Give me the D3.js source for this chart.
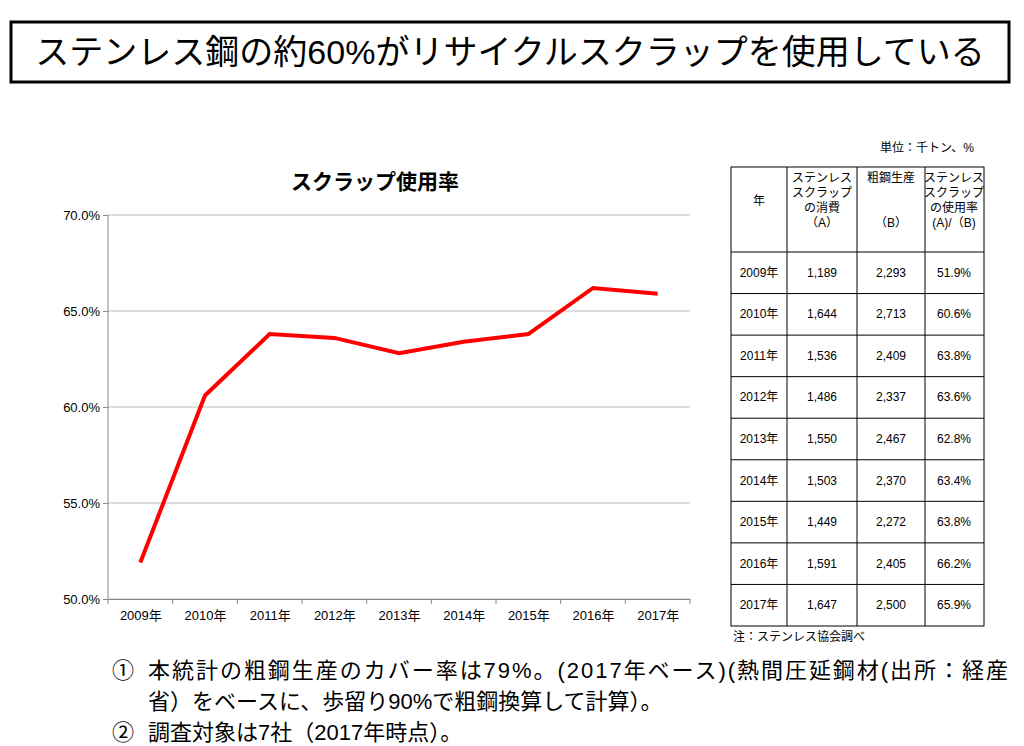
<!DOCTYPE html>
<html><head><meta charset="utf-8">
<script src="https://cdn.jsdelivr.net/npm/d3@7"></script>
<style>body{margin:0;background:#fff;font-family:"Noto Sans CJK JP",sans-serif}</style>
</head><body>
<script>
// data
years = ['2009年','2010年','2011年','2012年','2013年','2014年','2015年','2016年','2017年']
scrapUse = [1189,1644,1536,1486,1550,1503,1449,1591,1647]
crudeSteel = [2293,2713,2409,2337,2467,2370,2272,2405,2500]
rate = [51.9,60.6,63.8,63.6,62.8,63.4,63.8,66.2,65.9]
yTicks = [50,55,60,65,70]

svg = d3.select('body').append('svg').attr('width',1024).attr('height',746)
        .style('font-family','"Liberation Sans", "Noto Sans CJK JP", sans-serif')

// title box
svg.append('rect').attr('x',11).attr('y',22).attr('width',998).attr('height',60)
   .attr('fill','none').attr('stroke','#000').attr('stroke-width',3)
svg.append('text').attr('x',510).attr('y',64).attr('text-anchor','middle')
   .attr('font-size',34).text('ステンレス鋼の約60%がリサイクルスクラップを使用している')

// chart
margin = {left:108, top:215}
width = 690-108, height = 599-215
g = svg.append('g').attr('transform',`translate(${margin.left},${margin.top})`)
xScale = d3.scalePoint().domain(years).range([0,width]).padding(0.5)
yScale = d3.scaleLinear().domain([50,70]).range([height,0])

g.selectAll('.grid').data(yTicks).enter().append('line')
 .attr('x1',0).attr('x2',width).attr('y1',d=>yScale(d)).attr('y2',d=>yScale(d))
 .attr('stroke','#bbb')
g.append('line').attr('x1',0).attr('x2',0).attr('y1',0).attr('y2',height).attr('stroke','#888')

leftAxis = d3.axisLeft(yScale).tickValues(yTicks).tickFormat(d=>d.toFixed(1)+'%').tickSize(5)
ya = g.append('g').call(leftAxis)
ya.select('.domain').remove()
ya.selectAll('line').attr('stroke','#888')
ya.selectAll('text').attr('font-size',13).attr('font-family','Liberation Sans, Arial')

bottomAxis = d3.axisBottom(xScale).tickSize(0).tickPadding(12)
xa = g.append('g').attr('transform',`translate(0,${height})`).call(bottomAxis)
xa.select('.domain').attr('stroke','#888')
xa.selectAll('text').attr('font-size',13).attr('font-family','Liberation Sans, "Noto Sans CJK JP"')
g.selectAll('.sep').data(d3.range(years.length+1)).enter().append('line')
 .attr('x1',d=>d*width/years.length).attr('x2',d=>d*width/years.length)
 .attr('y1',height).attr('y2',height+5).attr('stroke','#888')

line = d3.line().x((d,i)=>xScale(years[i])).y(d=>yScale(d))
g.append('path').datum(rate).attr('d',line).attr('fill','none')
 .attr('stroke','#ff0000').attr('stroke-width',4)

svg.append('text').attr('x',375).attr('y',189).attr('text-anchor','middle')
   .attr('font-size',21).attr('font-weight','bold').text('スクラップ使用率')

// table
svg.append('text').attr('x',974).attr('y',152).attr('text-anchor','end').attr('font-size',12).text('単位：千トン、%')
cols = [731,787,857,925,984]
top0 = 167
rowH = (626-252)/years.length
t = svg.append('g').attr('font-size',12)
t.append('rect').attr('x',cols[0]).attr('y',top0).attr('width',cols[4]-cols[0]).attr('height',626-top0)
 .attr('fill','none').attr('stroke','#000')
cols.slice(1,4).forEach(c=>t.append('line').attr('x1',c).attr('x2',c).attr('y1',top0).attr('y2',626).attr('stroke','#000'))
d3.range(years.length).forEach(i=>t.append('line').attr('x1',cols[0]).attr('x2',cols[4])
  .attr('y1',252+i*rowH).attr('y2',252+i*rowH).attr('stroke','#000'))
function multi(x,y,lines){lines.forEach((s,i)=>t.append('text').attr('x',x).attr('y',y+i*15).attr('text-anchor','middle').text(s))}
multi(759,205,['年'])
multi(822,182,['ステンレス','スクラップ','の消費','（A）'])
multi(891,182,['粗鋼生産'])
multi(891,227,['（B）'])
multi(954,182,['ステンレス','スクラップ','の使用率','(A)/（B)'])
fmt = d3.format(',')
years.forEach((y,i)=>{
  const cy = 252+i*rowH+rowH/2+4
  ;[[y,759],[fmt(scrapUse[i]),822],[fmt(crudeSteel[i]),891],[rate[i].toFixed(1)+'%',954]]
   .forEach(([s,x])=>t.append('text').attr('x',x).attr('y',cy).attr('text-anchor','middle').text(s))
})
svg.append('text').attr('x',733).attr('y',641).attr('font-size',12).text('注：ステンレス協会調べ')

// notes
notes = [['①','本統計の粗鋼生産のカバー率は79%。(2017年ベース)(熱間圧延鋼材(出所：経産',112,678],
         ['','省）をベースに、歩留り90%で粗鋼換算して計算）。',112,709],
         ['②','調査対象は7社（2017年時点）。',112,740]]
notes.forEach(n=>{
  svg.append('text').attr('x',n[2]).attr('y',n[3]).attr('font-size',22).text(n[0])
  svg.append('text').attr('x',n[2]+36).attr('y',n[3]).attr('font-size',22)
     .attr('textLength', n[0]==='①' ? 860 : null).text(n[1])
})
</script>
</body></html>
